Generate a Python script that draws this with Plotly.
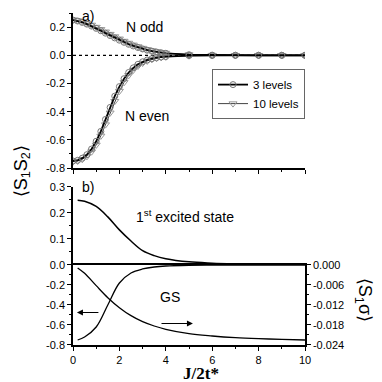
import plotly.graph_objects as go

# panel a) spin-spin correlation <S1 S2>, two truncations
x_a = [0.0, 0.2, 0.4, 0.6, 0.8, 1.0, 1.2, 1.4, 1.6, 1.8, 2.0, 2.2, 2.4, 2.6, 2.8,
       3.0, 3.2, 3.4, 3.6, 3.8, 4.0, 5.0, 6.0, 7.0, 8.0, 9.0, 10.0]
odd_3lev = [0.250, 0.243, 0.233, 0.221, 0.207, 0.191, 0.174, 0.157, 0.140, 0.123, 0.107,
            0.092, 0.078, 0.066, 0.055, 0.045, 0.036, 0.029, 0.023, 0.018, 0.014,
            0.004, 0.001, 0.0, 0.0, 0.0, 0.0]
odd_10lev = [0.252, 0.247, 0.239, 0.228, 0.215, 0.200, 0.184, 0.167, 0.150, 0.133, 0.117,
             0.101, 0.087, 0.074, 0.062, 0.051, 0.042, 0.034, 0.027, 0.021, 0.016,
             0.005, 0.001, 0.0, 0.0, 0.0, 0.0]
even_3lev = [-0.750, -0.745, -0.730, -0.705, -0.665, -0.610, -0.540, -0.455, -0.370, -0.290,
             -0.222, -0.166, -0.122, -0.089, -0.064, -0.046, -0.033, -0.024, -0.017, -0.012,
             -0.009, -0.002, -0.001, 0.0, 0.0, 0.0, 0.0]
even_10lev = [-0.755, -0.750, -0.738, -0.717, -0.684, -0.636, -0.572, -0.492, -0.408, -0.326,
              -0.254, -0.192, -0.142, -0.104, -0.076, -0.055, -0.040, -0.029, -0.021, -0.015,
              -0.011, -0.003, -0.001, 0.0, 0.0, 0.0, 0.0]

# panel b) first excited state and ground state
x_b = [0.2, 0.5, 1.0, 1.5, 2.0, 2.5, 3.0, 3.5, 4.0, 5.0, 6.0, 7.0, 8.0, 9.0, 10.0]
excited = [0.249, 0.245, 0.225, 0.185, 0.135, 0.092, 0.055, 0.036, 0.024, 0.012, 0.007,
           0.004, 0.002, 0.001, 0.0]
gs_s1s2 = [-0.75, -0.72, -0.62, -0.40, -0.18, -0.08, -0.04, -0.02, -0.01, -0.003, -0.001,
           0.0, 0.0, 0.0, 0.0]
gs_s1sigma = [-0.0009, -0.0025, -0.0062, -0.0098, -0.0128, -0.0152, -0.0170, -0.0183,
              -0.0193, -0.0206, -0.0213, -0.0218, -0.0221, -0.0223, -0.0225]

# tick labels
ya_vals = [-0.8, -0.6, -0.4, -0.2, 0.0, 0.2]
ya_text = ["-0.8", "-0.6", "-0.4", "-0.2", "0.0", "0.2"]
yb_top_vals = [0.1, 0.2, 0.3]
yb_top_text = ["0.1", "0.2", "0.3"]
yb_bot_vals = [-0.8, -0.6, -0.4, -0.2, 0.0]
yb_bot_text = ["-0.8", "-0.6", "-0.4", "-0.2", "0.0"]
yr_vals = [-0.024, -0.018, -0.012, -0.006, 0.0]
yr_text = ["-0.024", "-0.018", "-0.012", "-0.006", "0.000"]
x_vals = [0, 2, 4, 6, 8, 10]
x_text = ["0", "2", "4", "6", "8", "10"]

circ = dict(symbol="circle-open", size=6, color="#777", line=dict(width=1))
tri = dict(symbol="triangle-down-open", size=7, color="#999", line=dict(width=1))

fig = go.Figure()

# zero reference line in panel a
fig.add_trace(go.Scatter(x=[0, 10], y=[0, 0], mode="lines", showlegend=False,
                         line=dict(color="black", width=1.2, dash="dot"),
                         xaxis="x", yaxis="y"))

fig.add_trace(go.Scatter(x=x_a, y=odd_10lev, mode="lines+markers", name="10 levels",
                         line=dict(color="#444", width=1), marker=tri,
                         xaxis="x", yaxis="y"))
fig.add_trace(go.Scatter(x=x_a, y=even_10lev, mode="lines+markers", showlegend=False,
                         line=dict(color="#444", width=1), marker=tri,
                         xaxis="x", yaxis="y"))
fig.add_trace(go.Scatter(x=x_a, y=odd_3lev, mode="lines+markers", name="3 levels",
                         line=dict(color="black", width=1.8), marker=circ,
                         xaxis="x", yaxis="y"))
fig.add_trace(go.Scatter(x=x_a, y=even_3lev, mode="lines+markers", showlegend=False,
                         line=dict(color="black", width=1.8), marker=circ,
                         xaxis="x", yaxis="y"))

fig.add_trace(go.Scatter(x=x_b, y=excited, mode="lines", showlegend=False,
                         line=dict(color="black", width=1.5, shape="spline"),
                         xaxis="x2", yaxis="y2"))
fig.add_trace(go.Scatter(x=x_b, y=gs_s1s2, mode="lines", showlegend=False,
                         line=dict(color="black", width=1.3, shape="spline"),
                         xaxis="x3", yaxis="y3"))
fig.add_trace(go.Scatter(x=x_b, y=gs_s1sigma, mode="lines", showlegend=False,
                         line=dict(color="black", width=1.3, shape="spline"),
                         xaxis="x3", yaxis="y4"))

tickfont = dict(family="Liberation Sans", size=11, color="black")
common_x = dict(range=[0, 10], showgrid=False, zeroline=False, showline=True,
                linecolor="black", linewidth=1.5, ticks="outside", ticklen=4,
                tickwidth=1, tickcolor="black", tickvals=x_vals, ticktext=x_text,
                tickfont=tickfont, automargin=False,
                minor=dict(dtick=1, ticks="outside", ticklen=2, tickcolor="black"))
common_y = dict(showgrid=False, zeroline=False, showline=True, linecolor="black",
                linewidth=1.5, ticks="outside", ticklen=4, tickwidth=1,
                tickcolor="black", tickfont=tickfont, automargin=False)

# the page body adds an 8px offset, so margins are shifted to compensate
fig.update_layout(
    template="none",
    width=382, height=382,
    margin=dict(l=65, r=85, t=5, b=45, autoexpand=False),
    paper_bgcolor="white", plot_bgcolor="white",
    font=dict(family="Liberation Sans", color="black"),
    xaxis=dict(common_x, anchor="y", showticklabels=False),
    yaxis=dict(common_y, domain=[0.533, 1], range=[-0.8, 0.3], anchor="x",
               tickvals=ya_vals, ticktext=ya_text,
               minor=dict(dtick=0.1, ticks="outside", ticklen=2, tickcolor="black")),
    xaxis2=dict(common_x, anchor="y2", showticklabels=False, showline=False, ticks="",
                minor=dict(ticks="")),
    yaxis2=dict(common_y, domain=[0.241, 0.476], range=[0, 0.3], anchor="x2",
                tickvals=yb_top_vals, ticktext=yb_top_text,
                minor=dict(dtick=0.05, ticks="outside", ticklen=2, tickcolor="black")),
    xaxis3=dict(common_x, anchor="y3", mirror=True),
    yaxis3=dict(common_y, domain=[0, 0.241], range=[-0.8, 0], anchor="x3",
                tickvals=yb_bot_vals, ticktext=yb_bot_text,
                minor=dict(dtick=0.1, ticks="outside", ticklen=2, tickcolor="black")),
    yaxis4=dict(common_y, overlaying="y3", side="right", range=[-0.024, 0],
                anchor="x3", tickvals=yr_vals, ticktext=yr_text,
                minor=dict(dtick=0.003, ticks="outside", ticklen=2, tickcolor="black")),
    legend=dict(x=1, xanchor="right", y=0.831, yanchor="top",
                bordercolor="#666", borderwidth=1, bgcolor="white",
                font=dict(family="Liberation Sans", size=11.5, color="black"),
                traceorder="reversed", tracegroupgap=0, itemwidth=30),
)

label = dict(family="Liberation Sans", size=14, color="black")
ctr = dict(showarrow=False, xanchor="center", yanchor="middle")
fig.add_annotation(x=0.065, y=0.991, xref="paper", yref="paper", text="a)", font=label, **ctr)
fig.add_annotation(x=3.1, y=0.2, xref="x", yref="y", text="N odd", font=label, **ctr)
fig.add_annotation(x=3.2, y=-0.43, xref="x", yref="y", text="N even", font=label, **ctr)
fig.add_annotation(x=0.065, y=0.475, xref="paper", yref="paper", text="b)", font=label, **ctr)
fig.add_annotation(x=4.83, y=0.19, xref="x2", yref="y2",
                   text="1<sup>st</sup> excited state", font=label, **ctr)
fig.add_annotation(x=4.2, y=-0.32, xref="x3", yref="y3", text="GS", font=label, **ctr)

# arrows pointing to the axis each GS curve belongs to
fig.add_annotation(x=0.17, y=-0.475, ax=1.16, ay=-0.475, xref="x3", yref="y3",
                   axref="x3", ayref="y3", text="", showarrow=True, arrowhead=2,
                   arrowsize=1, arrowwidth=1.2, arrowcolor="black")
fig.add_annotation(x=5.17, y=-0.585, ax=3.75, ay=-0.585, xref="x3", yref="y3",
                   axref="x3", ayref="y3", text="", showarrow=True, arrowhead=2,
                   arrowsize=1, arrowwidth=1.2, arrowcolor="black")

# axis titles
fig.add_annotation(x=-0.22, y=0.523, xref="paper", yref="paper", textangle=-90,
                   text="⟨S<sub>1</sub>S<sub>2</sub>⟩", font=dict(family="Liberation Sans", size=18, color="black"), **ctr)
fig.add_annotation(x=1.25, y=0.136, xref="paper", yref="paper", textangle=90,
                   text="⟨S<sub>1</sub>σ⟩", font=dict(family="Liberation Sans", size=18, color="black"), **ctr)
fig.add_annotation(x=0.552, y=-0.087, xref="paper", yref="paper",
                   text="<b>J/2t*</b>", font=dict(family="Liberation Serif", size=17, color="black"), **ctr)

fig.write_html("out.html")
